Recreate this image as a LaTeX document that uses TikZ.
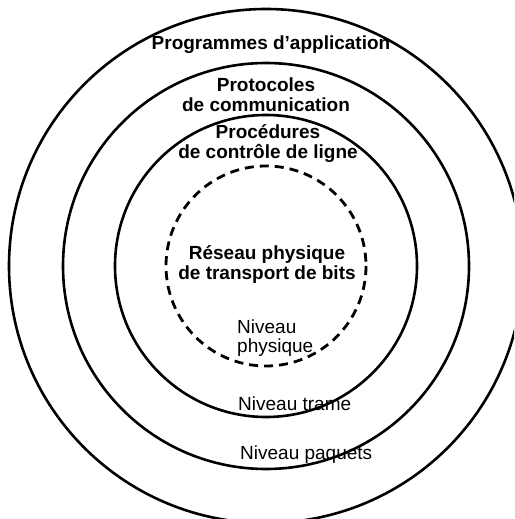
\documentclass[tikz,border=0pt]{standalone}
\usepackage{fontspec}
\setmainfont{Liberation Sans}
\begin{document}
\begin{tikzpicture}[x=1pt,y=-1pt,
  ring/.style={draw=black,line width=2.6pt},
  dashring/.style={draw=black,line width=2.8pt,dash pattern=on 9pt off 6pt},
  layer/.style={font=\fontsize{19}{20}\selectfont\bfseries,align=center,inner sep=0pt},
  level/.style={font=\fontsize{19}{19}\selectfont,align=left,inner sep=0pt}]
  \useasboundingbox (0,0) rectangle (514,519);
  \clip (0,0) rectangle (514,519);
  \coordinate (c) at (266,266);
  % nested layers
  \draw[ring] (c) circle[radius=257];
  \draw[ring] (c) circle[radius=203];
  \draw[ring] (c) circle[radius=151];
  \draw[dashring] (c) circle[radius=100];
  % layer titles
  \node[layer] (app) at (271,45) {Programmes d'application};
  \node[layer] (proto) at (266,95) {Protocoles\\de communication};
  \node[layer] (proc) at (268,144) {Procédures\\de contrôle de ligne};
  \node[layer] (res) at (267,265) {Réseau physique\\de transport de bits};
  % level names
  \node[level,anchor=west] (phys) at (237,338) {Niveau\\physique};
  \node[level,anchor=west] (trame) at (238,404) {Niveau trame};
  \node[level,anchor=west] (paq) at (240,455) {Niveau paquets};
\end{tikzpicture}
\end{document}
